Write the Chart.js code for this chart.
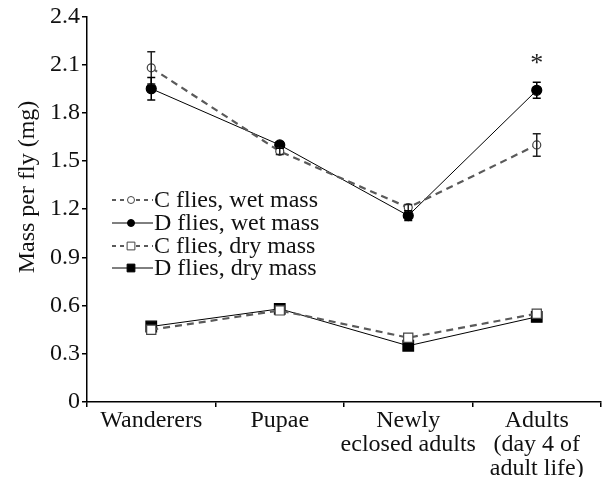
<!DOCTYPE html>
<html lang="en">
<head>
    <meta charset="UTF-8">
    <title>Mass per fly</title>
    <style>
        body { margin: 0; background: #fff; }
        .wrap { width: 603px; height: 477px; }
    </style>
</head>
<body>
    <div class="wrap"><canvas id="chart" width="603" height="477"></canvas></div>

    <script src="https://cdn.jsdelivr.net/npm/chart.js"></script>
    <script>
        // data
        var stages = ['Wanderers', 'Pupae', ['Newly', 'eclosed adults'], ['Adults', '(day 4 of', 'adult life)']];
        var cWet = [2.08, 1.56, 1.21, 1.60];
        var dWet = [1.95, 1.60, 1.16, 1.94];
        var cDry = [0.45, 0.57, 0.40, 0.55];
        var dDry = [0.47, 0.58, 0.35, 0.53];
        var cWetErr = [0.10, 0.02, 0.02, 0.07];
        var dWetErr = [0.07, 0.02, 0.03, 0.05];
        var yTicks = [0, 0.3, 0.6, 0.9, 1.2, 1.5, 1.8, 2.1, 2.4];
        var yTitle = 'Mass per fly (mg)';

        var FONT = '"Liberation Serif", "Times New Roman", serif';
        var GREY = '#5a5a5a';

        // error bars for the wet mass series, plus the asterisk
        var errorBars = {
            id: 'errorBars',
            afterDatasetsDraw: function (chart) {
                var ctx = chart.ctx;
                var x = chart.scales.x, y = chart.scales.y;
                var sets = [[cWet, cWetErr, '#222'], [dWet, dWetErr, '#000']];
                ctx.save();
                sets.forEach(function (s) {
                    ctx.strokeStyle = s[2];
                    ctx.lineWidth = 1.5;
                    for (var i = 0; i < s[0].length; i++) {
                        var px = x.getPixelForValue(i);
                        var top = y.getPixelForValue(s[0][i] + s[1][i]);
                        var bot = y.getPixelForValue(s[0][i] - s[1][i]);
                        ctx.beginPath();
                        ctx.moveTo(px, top); ctx.lineTo(px, bot);
                        ctx.moveTo(px - 4, top); ctx.lineTo(px + 4, top);
                        ctx.moveTo(px - 4, bot); ctx.lineTo(px + 4, bot);
                        ctx.stroke();
                    }
                });
                ctx.fillStyle = '#222';
                ctx.font = '26px ' + FONT;
                ctx.textAlign = 'center';
                ctx.textBaseline = 'middle';
                ctx.fillText('*', x.getPixelForValue(3), y.getPixelForValue(dWet[3] + dWetErr[3]) - 18);
                ctx.restore();
            }
        };

        // legend inside the plot (line + marker + text) and the y title
        var insideLegend = {
            id: 'insideLegend',
            afterDraw: function (chart) {
                var ctx = chart.ctx;
                var rows = [200, 223, 246, 268];
                ctx.save();
                chart.data.datasets.forEach(function (ds, i) {
                    var yy = rows[i];
                    ctx.strokeStyle = ds.borderColor;
                    ctx.lineWidth = ds.borderWidth;
                    ctx.setLineDash(ds.borderDash.length ? [4, 4] : []);
                    ctx.beginPath();
                    ctx.moveTo(112, yy); ctx.lineTo(153, yy);
                    ctx.stroke();
                    ctx.setLineDash([]);
                    ctx.lineWidth = 1;
                    ctx.fillStyle = ds.pointBackgroundColor;
                    ctx.strokeStyle = ds.pointBorderColor;
                    Chart.helpers.drawPoint(ctx, {
                        pointStyle: ds.pointStyle,
                        radius: ds.pointStyle === 'rect' ? 5.5 : 3.5,
                        borderWidth: 1
                    }, 131, yy);
                    ctx.fillStyle = '#111';
                    ctx.font = '24px ' + FONT;
                    ctx.textAlign = 'left';
                    ctx.textBaseline = 'middle';
                    ctx.fillText(ds.label, 154, yy + 1);
                });
                ctx.translate(28, 187);
                ctx.rotate(-Math.PI / 2);
                ctx.textAlign = 'center';
                ctx.fillText(yTitle, 0, 0);
                ctx.restore();
            }
        };

        function series(label, data, dashed, style, filled, r) {
            return {
                label: label,
                data: data,
                borderColor: dashed ? GREY : '#000',
                borderWidth: dashed ? 2.2 : 1,
                borderDash: dashed ? [7, 5] : [],
                pointStyle: style,
                pointRadius: r,
                pointBorderWidth: 1.2,
                pointBackgroundColor: filled ? '#000' : '#fff',
                pointBorderColor: filled ? '#000' : '#444',
                tension: 0
            };
        }

        new Chart(document.getElementById('chart'), {
            type: 'line',
            data: {
                labels: stages,
                datasets: [
                    series('C flies, wet mass', cWet, true, 'circle', false, 4),
                    series('D flies, wet mass', dWet, false, 'circle', true, 5),
                    series('C flies, dry mass', cDry, true, 'rect', false, 6.5),
                    series('D flies, dry mass', dDry, false, 'rect', true, 7.5)
                ]
            },
            options: {
                responsive: false,
                animation: false,
                layout: { autoPadding: false, padding: { top: 16, right: 2, bottom: 0, left: 0 } },
                plugins: {
                    legend: { display: false },
                    tooltip: { enabled: false }
                },
                scales: {
                    x: {
                        offset: true,
                        afterFit: function (scale) {
                            scale.height = 75;
                            scale.paddingLeft = 0;
                            scale.paddingRight = 0;
                        },
                        border: { color: '#000', width: 1.5 },
                        grid: { offset: true, drawOnChartArea: false, drawTicks: true, tickLength: 5, color: '#000', lineWidth: 1.5 },
                        ticks: { color: '#111', font: { family: FONT, size: 24, lineHeight: 1.0 }, padding: 2, maxRotation: 0, autoSkip: false }
                    },
                    y: {
                        min: 0,
                        max: 2.4,
                        afterFit: function (scale) { scale.width = 87; },
                        afterBuildTicks: function (scale) {
                            scale.ticks = yTicks.map(function (v) { return { value: v }; });
                        },
                        border: { color: '#000', width: 1.5 },
                        grid: { drawOnChartArea: false, drawTicks: true, tickLength: 5, color: '#000', lineWidth: 1.5 },
                        ticks: {
                            color: '#111',
                            font: { family: FONT, size: 24 },
                            padding: 2,
                            callback: function (v) { return v === 0 ? '0' : v.toFixed(1); }
                        }
                    }
                }
            },
            plugins: [errorBars, insideLegend]
        });
    </script>
</body>
</html>
